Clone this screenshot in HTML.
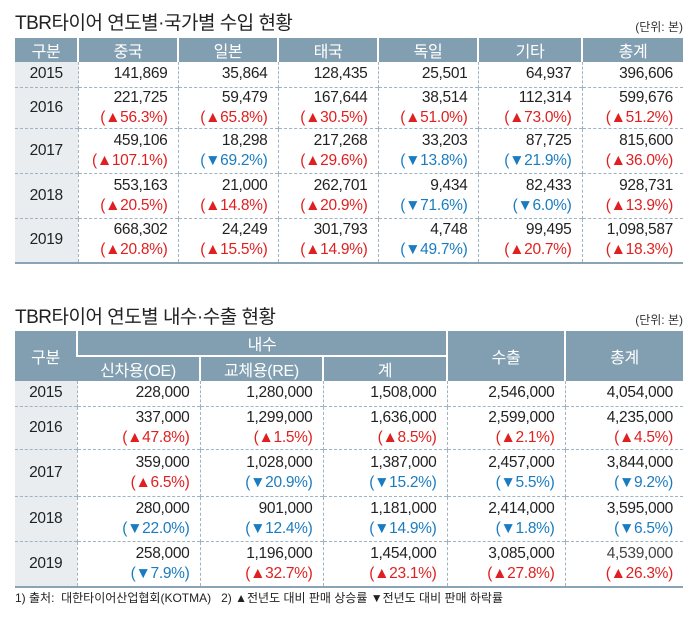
<!DOCTYPE html>
<html><head><meta charset="utf-8"><style>
body{margin:0;width:700px;height:617px;background:#fff;font-family:"Liberation Sans","Noto Sans CJK KR",sans-serif;color:#222;position:relative;overflow:hidden}
.t{position:absolute;left:15px;font-size:19px;letter-spacing:-0.5px}
.u{position:absolute;right:17px;font-size:12px;color:#333;line-height:14px}
table{position:absolute;left:15px;border-collapse:collapse;table-layout:fixed;font-size:15.5px;letter-spacing:-0.3px}
th{background:#829fb2;color:#fff;font-weight:normal;font-size:16px;border-left:2px solid #fff;padding:0}
th:first-child{border-left:none}
td{text-align:right;padding:0 10px 0 0;border-left:1px dashed #9fb3c2;border-top:1px dashed #9fb3c2;line-height:20px}
td.y{background:#e9edf0;text-align:center;padding:0;border-left:none}
tr.f td{border-top:none}
.r{color:#e02020}.b{color:#1a7cc0}
table.t1{width:668px}
.note{position:absolute;left:15px;top:589px;font-size:12px;color:#222}
</style></head><body>
<div class="t" style="top:8px">TBR타이어 연도별·국가별 수입 현황</div>
<div class="u" style="top:20px">(단위: 본)</div>
<table class="t1" style="top:38px;border-bottom:2px solid #8aa3b5">
<colgroup><col style="width:63px"><col style="width:100px"><col style="width:100px"><col style="width:100px"><col style="width:100px"><col style="width:104px"><col style="width:101px"></colgroup>
<tr style="height:24px"><th>구분</th><th>중국</th><th>일본</th><th>태국</th><th>독일</th><th>기타</th><th>총계</th></tr>
<tr class="f" style="height:25px"><td class="y">2015</td><td>141,869</td><td>35,864</td><td>128,435</td><td>25,501</td><td>64,937</td><td>396,606</td></tr>
<tr style="height:40px"><td class="y">2016</td><td>221,725<br><span class="r">(▲56.3%)</span></td><td>59,479<br><span class="r">(▲65.8%)</span></td><td>167,644<br><span class="r">(▲30.5%)</span></td><td>38,514<br><span class="r">(▲51.0%)</span></td><td>112,314<br><span class="r">(▲73.0%)</span></td><td>599,676<br><span class="r">(▲51.2%)</span></td></tr>
<tr style="height:45px"><td class="y">2017</td><td>459,106<br><span class="r">(▲107.1%)</span></td><td>18,298<br><span class="b">(▼69.2%)</span></td><td>217,268<br><span class="r">(▲29.6%)</span></td><td>33,203<br><span class="b">(▼13.8%)</span></td><td>87,725<br><span class="b">(▼21.9%)</span></td><td>815,600<br><span class="r">(▲36.0%)</span></td></tr>
<tr style="height:45px"><td class="y">2018</td><td>553,163<br><span class="r">(▲20.5%)</span></td><td>21,000<br><span class="r">(▲14.8%)</span></td><td>262,701<br><span class="r">(▲20.9%)</span></td><td>9,434<br><span class="b">(▼71.6%)</span></td><td>82,433<br><span class="b">(▼6.0%)</span></td><td>928,731<br><span class="r">(▲13.9%)</span></td></tr>
<tr style="height:45px"><td class="y">2019</td><td>668,302<br><span class="r">(▲20.8%)</span></td><td>24,249<br><span class="r">(▲15.5%)</span></td><td>301,793<br><span class="r">(▲14.9%)</span></td><td>4,748<br><span class="b">(▼49.7%)</span></td><td>99,495<br><span class="r">(▲20.7%)</span></td><td>1,098,587<br><span class="r">(▲18.3%)</span></td></tr>
</table>

<div class="t" style="top:302px">TBR타이어 연도별 내수·수출 현황</div>
<div class="u" style="top:313px">(단위: 본)</div>
<table style="top:331px;width:668px;border-bottom:2px solid #8aa3b5">
<colgroup><col style="width:62px"><col style="width:123px"><col style="width:123px"><col style="width:124px"><col style="width:118px"><col style="width:118px"></colgroup>
<tr style="height:20px"><th rowspan="2">구분</th><th colspan="3" style="border-bottom:2px solid #fff">내수</th><th rowspan="2">수출</th><th rowspan="2">총계</th></tr>
<tr style="height:21px"><th>신차용(OE)</th><th>교체용(RE)</th><th>계</th></tr>
<tr class="f" style="height:25px"><td class="y">2015</td><td>228,000</td><td>1,280,000</td><td>1,508,000</td><td>2,546,000</td><td>4,054,000</td></tr>
<tr style="height:43px"><td class="y">2016</td><td>337,000<br><span class="r">(▲47.8%)</span></td><td>1,299,000<br><span class="r">(▲1.5%)</span></td><td>1,636,000<br><span class="r">(▲8.5%)</span></td><td>2,599,000<br><span class="r">(▲2.1%)</span></td><td>4,235,000<br><span class="r">(▲4.5%)</span></td></tr>
<tr style="height:47px"><td class="y">2017</td><td>359,000<br><span class="r">(▲6.5%)</span></td><td>1,028,000<br><span class="b">(▼20.9%)</span></td><td>1,387,000<br><span class="b">(▼15.2%)</span></td><td>2,457,000<br><span class="b">(▼5.5%)</span></td><td>3,844,000<br><span class="b">(▼9.2%)</span></td></tr>
<tr style="height:45px"><td class="y">2018</td><td>280,000<br><span class="b">(▼22.0%)</span></td><td>901,000<br><span class="b">(▼12.4%)</span></td><td>1,181,000<br><span class="b">(▼14.9%)</span></td><td>2,414,000<br><span class="b">(▼1.8%)</span></td><td>3,595,000<br><span class="b">(▼6.5%)</span></td></tr>
<tr style="height:46px"><td class="y">2019</td><td>258,000<br><span class="b">(▼7.9%)</span></td><td>1,196,000<br><span class="r">(▲32.7%)</span></td><td>1,454,000<br><span class="r">(▲23.1%)</span></td><td>3,085,000<br><span class="r">(▲27.8%)</span></td><td><span style="color:#444">4,539,000</span><br><span class="r">(▲26.3%)</span></td></tr>
</table>
<div class="note">1) 출처:&nbsp; 대한타이어산업협회(KOTMA)&nbsp;&nbsp; 2) ▲전년도 대비 판매 상승률 ▼전년도 대비 판매 하락률</div>
</body></html>
